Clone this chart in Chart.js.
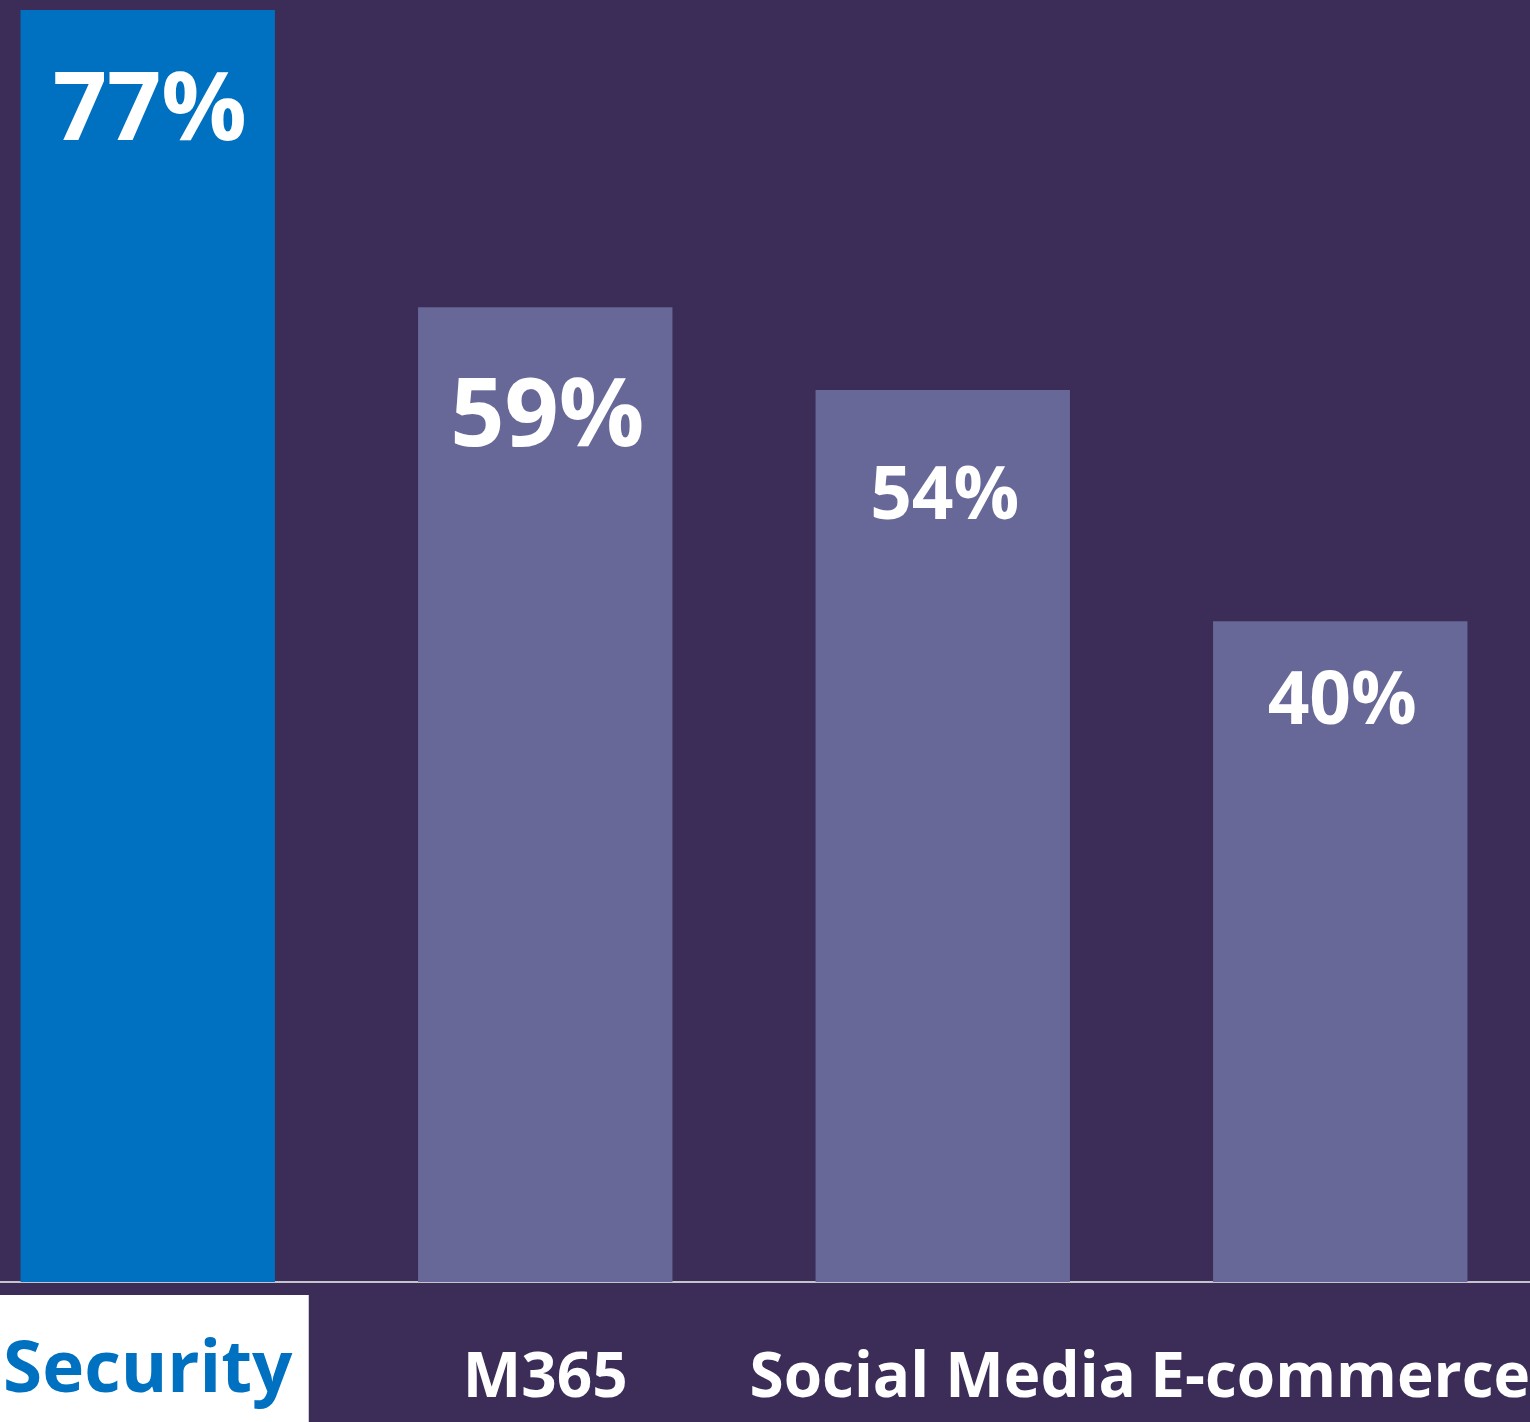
<!DOCTYPE html>
<html lang="en">
  <head>
    <meta charset="UTF-8" />
    <title>Chart</title>
    <style>
      html,
      body {
        margin: 0;
        padding: 0;
        background: #3b2d58;
        overflow: hidden;
      }
      .wrap {
        position: absolute;
        left: -51px;
        top: 0;
        width: 1590px;
        height: 1422px;
      }
    </style>
  </head>
  <body>
    <div class="wrap">
      <canvas id="mychart"></canvas>
    </div>

    <script src="https://cdn.jsdelivr.net/npm/chart.js@4/dist/chart.umd.min.js"></script>
    <script>
      // data
      const categories = ["Security", "M365", "Social Media", "E-commerce"];
      const values = [77, 59, 54, 40];

      // look of each value label (size, baseline below bar top)
      const labelSize = [95, 95, 73, 73];
      const labelDrop = [130, 139, 129, 103];

      const barColors = ["#0070c0", "#676798", "#676798", "#676798"];

      // white box behind the highlighted category
      const highlightBox = {
        id: "highlightBox",
        beforeDraw(chart) {
          const x = chart.scales.x;
          const ctx = chart.ctx;
          const px = x.getPixelForTick(0);
          ctx.save();
          ctx.fillStyle = "#ffffff";
          ctx.fillRect(px - 148, x.top + 13, 309, chart.height - x.top - 13);
          ctx.restore();
        },
      };

      // % labels inside bars
      const valueLabels = {
        id: "valueLabels",
        afterDatasetsDraw(chart) {
          const ctx = chart.ctx;
          const meta = chart.getDatasetMeta(0);
          ctx.save();
          ctx.fillStyle = "#ffffff";
          ctx.textAlign = "center";
          ctx.textBaseline = "alphabetic";
          meta.data.forEach((bar, i) => {
            ctx.font = "bold " + labelSize[i] + "px 'Open Sans', sans-serif";
            ctx.fillText(values[i] + "%", bar.x + 2, bar.y + labelDrop[i]);
          });
          ctx.restore();
        },
      };

      const mychart = document.getElementById("mychart");

      new Chart(mychart, {
        type: "bar",
        data: {
          labels: categories,
          datasets: [
            {
              data: values,
              backgroundColor: barColors,
              borderWidth: 0,
              categoryPercentage: 1,
              barPercentage: 0.64,
            },
          ],
        },
        options: {
          responsive: true,
          maintainAspectRatio: false,
          animation: false,
          layout: { padding: { top: 10, left: 0, right: 0, bottom: 0 } },
          plugins: {
            legend: { display: false },
            tooltip: { enabled: false },
          },
          scales: {
            y: {
              display: false,
              min: 0,
              max: 77,
            },
            x: {
              afterFit: (scale) => {
                scale.height = 140;
                scale.paddingLeft = 0;
                scale.paddingRight = 0;
              },
              grid: { display: false, drawTicks: false },
              border: { display: true, color: "#c4c4cc", width: 2 },
              ticks: {
                padding: 54,
                color: (c) => (c.index === 0 ? "#0070c0" : "#ffffff"),
                font: (c) =>
                  c.index === 0
                    ? { family: "'Open Sans', sans-serif", size: 71, weight: "bold", lineHeight: 1.0 }
                    : { family: "'Open Sans', sans-serif", size: 62, weight: "bold", lineHeight: 1.4 },
              },
            },
          },
        },
        plugins: [highlightBox, valueLabels],
      });
    </script>
  </body>
</html>
